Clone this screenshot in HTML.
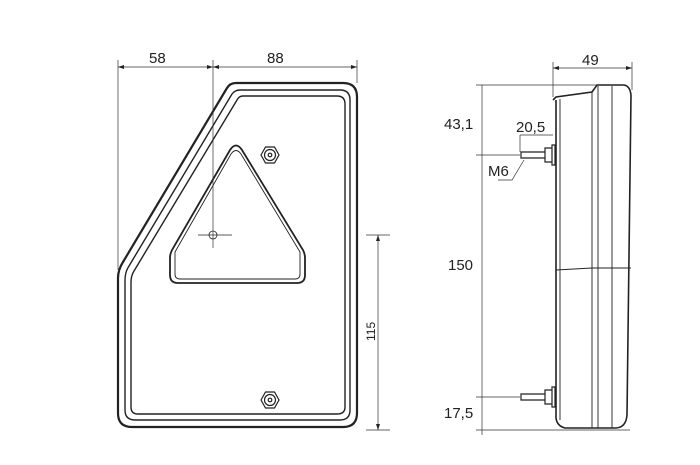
<!DOCTYPE html>
<html><head><meta charset="utf-8"><style>
html,body{margin:0;padding:0;background:#fff;width:700px;height:465px;overflow:hidden}
text{font-family:"Liberation Sans",sans-serif;fill:#222}
</style></head><body>
<svg width="700" height="465" viewBox="0 0 700 465" xmlns="http://www.w3.org/2000/svg">
<g fill="none" stroke="#222" stroke-width="1.2">
<path d="M236,83 L343,83 Q357,83 357,97 L357,413 Q357,427 343,427 L132,427 Q118,427 118,413 L118,278 Q118,270 123,262 L227,88 Q230,83 236,83 Z" stroke-width="2.2"/>
<path d="M240,90 L340,90 Q350,90 350,100 L350,410 Q350,420 340,420 L135,420 Q125,420 125,410 L125,280 Q125,272 129,266 L232,94 Q235,90 240,90 Z" stroke-width="1.4"/>
<path d="M243,96 L337,96 Q345,96 345,104 L345,407 Q345,414 337,414 L138,414 Q131,414 131,407 L131,282 Q131,276 134,271 L237,100 Q239,96 243,96 Z" stroke-width="1.4"/>
<path d="M230,150 Q236,141 242,150 L303,250 Q305,254 305,258 L305,275 Q305,283 297,283 L178,283 Q170,283 170,275 L170,258 Q170,254 172,250 Z" stroke-width="1.8"/>
<path d="M231,154 Q236,147 241,154 L300,252 L300,274 Q300,279 295,279 L180,279 Q175,279 175,274 L175,252 Z" stroke-width="0.9"/>
<polygon points="261,155 265.5,147 274.5,147 279,155 274.5,163 265.5,163"/>
<circle cx="270" cy="155" r="5.5"/><circle cx="270" cy="155" r="1.8"/>
<polygon points="261,400 265.5,392 274.5,392 279,400 274.5,408 265.5,408"/>
<circle cx="270" cy="400" r="5.5"/><circle cx="270" cy="400" r="1.8"/>
<circle cx="213" cy="235" r="4" stroke-width="0.8"/>
<path d="M198,235 H232" stroke-width="0.8"/>
</g>
<g fill="none" stroke="#333" stroke-width="0.7">
<path d="M118,60 V270 M357,60 V83 M213,60 V248" />
<path d="M118,67 H357"/>
<path d="M366,235 H390 M366,430 H390 M378,235 V430"/>
<path d="M553,62 V97 M632,62 V90 M553,68 H632"/>
<path d="M476,85 H597 M476,155 H520 M476,397 H520 M476,430 H630 M482,85 V435"/>
<path d="M520,135 H553 M520,135 V152"/>
<path d="M498,180 H512 L524,160"/>
</g>
<g fill="#222">
<path d="M118,67 l6,-2 v4 z M357,67 l-6,-2 v4z M213,67 l-6,-2 v4z M213,67 l6,-2 v4z"/>
<path d="M378,235 l-2,6 h4z M378,430 l-2,-6 h4z"/>
<path d="M553,68 l6,-2 v4z M632,68 l-6,-2 v4z"/>
</g>
<g fill="none" stroke="#222" stroke-width="1.6">
<path d="M553,100 L556,97 L592,92 L597,85 L624,85 Q630,86 631,95 L627,415 Q626,428 615,428 L565,428 Q557,426 556,418 L556,100"/>
<path d="M560,99 V420 M592,92 V428 M598,86 V428 M612,86 V428" stroke-width="0.9"/>
<path d="M556,270 L592,268 L631,268" stroke-width="0.9"/>
<path d="M521,152 H545 V158 H521 Z M545,148 H552 V162 H545 Z M552,145 H555 V165 H552Z" stroke-width="1.2"/>
<path d="M521,394 H545 V400 H521 Z M545,390 H552 V404 H545 Z M552,387 H555 V407 H552Z" stroke-width="1.2"/>
</g>
<text x="149" y="63" font-size="15">58</text>
<text x="267" y="63" font-size="15">88</text>
<text x="582" y="65" font-size="15">49</text>
<text x="444" y="129" font-size="15">43,1</text>
<text x="516" y="132" font-size="15">20,5</text>
<text x="488" y="176" font-size="15">M6</text>
<text x="448" y="270" font-size="15">150</text>
<text x="444" y="418" font-size="15">17,5</text>
<text x="375" y="341" font-size="12" transform="rotate(-90 375 341)">115</text>
</svg>
</body></html>
